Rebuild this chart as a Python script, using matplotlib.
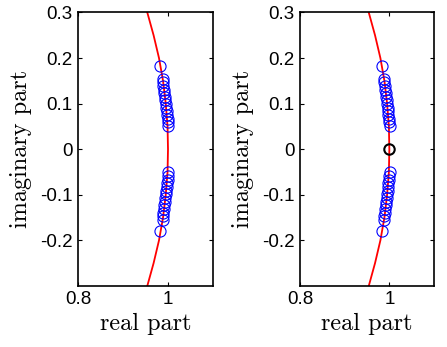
import matplotlib.pyplot as plt

# reference curve (red)
curve_y = [-0.30, -0.25, -0.20, -0.15, -0.10, -0.05, 0.0, 0.05, 0.10, 0.15, 0.20, 0.25, 0.30]
curve_x = [0.954, 0.968, 0.980, 0.989, 0.995, 0.999, 1.0, 0.999, 0.995, 0.989, 0.980, 0.968, 0.954]

# blue circles (eigenvalues)
top_y = [0.183, 0.155, 0.147, 0.139, 0.131, 0.123, 0.115, 0.107, 0.099, 0.091, 0.083, 0.075, 0.067, 0.059, 0.051]
top_x = [0.983, 0.988, 0.989, 0.990, 0.991, 0.992, 0.993, 0.994, 0.995, 0.996, 0.997, 0.998, 0.999, 1.000, 1.001]
bot_y = [-0.051, -0.059, -0.067, -0.075, -0.083, -0.091, -0.099, -0.107, -0.115, -0.123, -0.131, -0.139, -0.147, -0.155, -0.180]
bot_x = [1.001, 1.000, 0.999, 0.998, 0.997, 0.996, 0.995, 0.994, 0.993, 0.992, 0.991, 0.990, 0.989, 0.988, 0.983]

# extra black circle in the right panel
extra_x = [1.0]
extra_y = [0.0]

xticks = [0.8, 1.0]
xticklabels = ['0.8', '1']
yticks = [-0.2, -0.1, 0.0, 0.1, 0.2, 0.3]
yticklabels = ['-0.2', '-0.1', '0', '0.1', '0.2', '0.3']

fig = plt.figure(figsize=(4.47, 3.47), dpi=100)
ax1 = fig.add_axes([0.1745, 0.176, 0.302, 0.788])
ax2 = fig.add_axes([0.671, 0.176, 0.300, 0.788])

for i, ax in enumerate([ax1, ax2]):
    ax.plot(curve_x, curve_y, color='red', lw=1.3, zorder=2)
    ax.plot(top_x + bot_x, top_y + bot_y, 'o', mfc='none', mec='blue',
            ms=8, mew=0.8, zorder=3)
    if i == 1:
        ax.plot(extra_x, extra_y, 'o', mfc='none', mec='black', ms=7.5, mew=1.5, zorder=4)
    ax.set_xlim(0.8, 1.1)
    ax.set_ylim(-0.3, 0.3)
    ax.set_xticks(xticks)
    ax.set_xticklabels(xticklabels, fontfamily='Liberation Sans', fontsize=13.5)
    ax.set_yticks(yticks)
    ax.set_yticklabels(yticklabels, fontfamily='Liberation Sans', fontsize=13.5)
    ax.tick_params(direction='in', length=3, width=0.8, top=True, right=True, pad=4)
    for s in ax.spines.values():
        s.set_linewidth(1.2)
    ax.set_xlabel('real part', fontfamily='cmr10', fontsize=17.5, labelpad=3)
    ax.set_ylabel('imaginary part', fontfamily='cmr10', fontsize=17.5, labelpad=5.5)

fig.savefig('out.png', dpi=100)
